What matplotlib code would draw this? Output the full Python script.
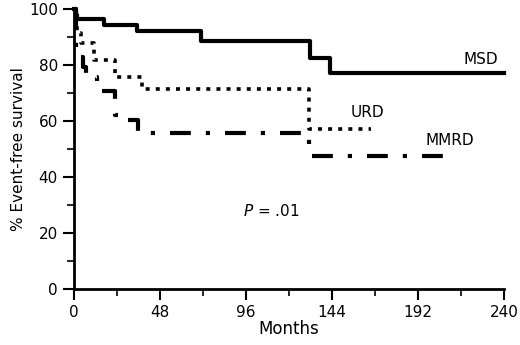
import matplotlib
matplotlib.use("Agg")
import matplotlib.pyplot as plt
from matplotlib.ticker import MultipleLocator

# Kaplan-Meier style step curves (months, % event-free survival)
msd_t = [0, 1, 2, 17, 35, 71, 132, 143, 240]
msd_s = [100, 98, 96.4, 94.3, 92, 88.6, 82.5, 77, 77]

urd_t = [0, 1, 2, 4, 11, 23, 38, 131, 166]
urd_s = [100, 94, 91.5, 88, 81.8, 75.6, 71.3, 57.1, 57.1]

mmrd_t = [0, 1, 3, 5, 7, 13, 23, 28, 36, 131, 209]
mmrd_s = [100, 85, 83, 79.4, 75.7, 70.8, 62, 60.4, 55.7, 47.5, 47.5]

x_ticks = [0, 48, 96, 144, 192, 240]
y_ticks = [0, 20, 40, 60, 80, 100]

plt.rcParams['font.family'] = ['DejaVu Sans']

fig = plt.figure(figsize=(5.2, 3.45), dpi=100)
ax = fig.add_axes([0.142, 0.162, 0.827, 0.812])

ax.step(msd_t, msd_s, where='post', color='black', lw=3, clip_on=False)
ax.step(urd_t, urd_s, where='post', color='black', lw=2.6, linestyle=(0, (1.1, 1.7)), clip_on=False)
ax.step(mmrd_t, mmrd_s, where='post', color='black', lw=3, linestyle=(0, (5, 3.6, 1, 3.6)), clip_on=False)

ax.text(227, 82, 'MSD', fontsize=11, ha='center', va='center')
ax.text(164, 63, 'URD', fontsize=11, ha='center', va='center')
ax.text(210, 53, 'MMRD', fontsize=11, ha='center', va='center')
ax.text(110, 28, r'$P$ = .01', fontsize=11, ha='center', va='center')

ax.set_xlim(0, 240)
ax.set_ylim(0, 100)
ax.set_xticks(x_ticks)
ax.set_yticks(y_ticks)
ax.xaxis.set_minor_locator(MultipleLocator(24))
ax.yaxis.set_minor_locator(MultipleLocator(10))
ax.tick_params(which='major', length=8, width=1.5, labelsize=11, direction='out')
ax.tick_params(which='minor', length=5, width=1.2, direction='out')

for side in ['top', 'right']:
    ax.spines[side].set_visible(False)
for side in ['left', 'bottom']:
    ax.spines[side].set_linewidth(2)

ax.set_xlabel('Months', fontsize=12, labelpad=0)
ax.set_ylabel('% Event-free survival', fontsize=11, labelpad=2)

fig.savefig('out.png', dpi=100)
